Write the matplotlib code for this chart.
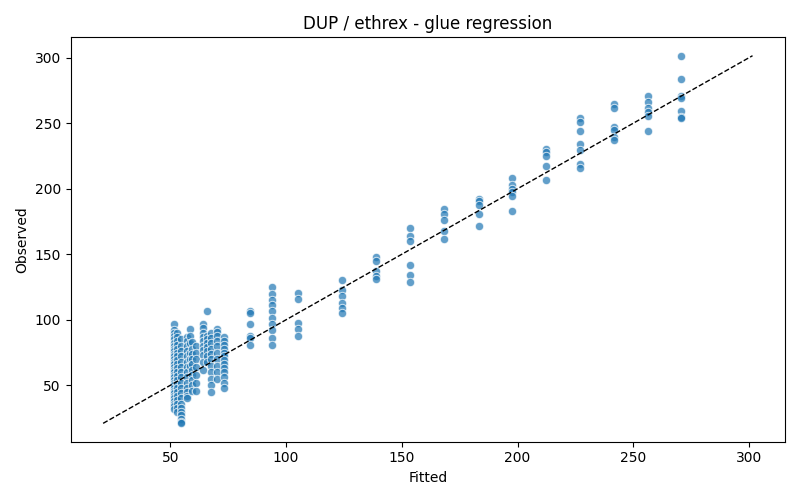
import matplotlib
matplotlib.use("Agg")
import matplotlib.pyplot as plt
import numpy as np

# Fitted value of each column and observed values in that column
col_fitted = [51.5, 53.0, 54.8, 57.2, 58.4, 59.6, 61.0, 64.0, 66.0, 67.8, 70.0, 73.0,
              84.4, 93.8, 105.0, 124.2, 138.8, 153.6, 168.3, 183.3, 197.4,
              212.2, 227.1, 241.8, 256.4, 270.7]
col_observed = [
    [97, 92, 90, 88, 85, 82, 80, 78, 76, 74, 72, 70, 68, 66, 64, 62, 60, 58, 56, 54,
     52, 50, 48, 46, 44, 42, 40, 38, 36, 34, 32],
    [90, 87, 84, 81, 78, 75, 72, 69, 66, 63, 60, 57, 54, 51, 48, 45, 42, 39, 36, 33, 30],
    [85, 80, 76, 72, 68, 64, 60, 56, 52, 48, 44, 40, 36, 33, 30, 27, 24, 22, 21],
    [87, 84, 80, 76, 72, 68, 64, 60, 56, 52, 48, 45, 42, 40],
    [93, 88, 82, 75, 70, 65],
    [83, 78, 74, 70, 66, 62, 58, 54, 50, 46],
    [80, 75, 70, 64, 58, 52, 46],
    [97, 94, 90, 87, 84, 80, 77, 73, 68, 62],
    [107, 88, 85, 82, 79, 76, 72, 68],
    [90, 86, 82, 78, 74, 70, 65, 60, 55, 50, 45],
    [93, 91, 88, 84, 80, 75, 70, 65, 60, 55],
    [87, 84, 81, 78, 75, 72, 69, 66, 63, 60, 56, 52, 48],
    [106.7, 105.4, 97, 87.6, 86.3, 80.7],
    [125.2, 120, 115, 111.3, 106.7, 101.6, 97, 91.9, 86.3, 80.7],
    [120.3, 115.7, 97.8, 92.7, 87.6],
    [130.3, 122.6, 118.3, 113.1, 109.3, 105.4],
    [147.6, 145, 137.4, 133.6, 131.3],
    [169.9, 164.3, 160.4, 142, 134.4, 129],
    [184.7, 180.9, 176.3, 168.1, 161.7],
    [192.4, 190.3, 187.3, 180.9, 171.9],
    [208, 203, 200, 197.5, 194.2, 182.9],
    [230.7, 228.1, 224.8, 217.2, 206.4],
    [253.7, 251.2, 244, 234, 229.4, 218.7, 216.2],
    [264.7, 261.4, 246.9, 244.8, 239.6, 237.1],
    [270.9, 266, 261.4, 258.8, 255.5, 244],
    [301.5, 283.7, 270.5, 269.1, 259.4, 255, 254],
]

fitted = []
observed = []
for f, obs in zip(col_fitted, col_observed):
    for o in obs:
        fitted.append(f)
        observed.append(o)
fitted = np.array(fitted)
observed = np.array(observed)

fig, ax = plt.subplots(figsize=(8, 5), dpi=100)
ax.scatter(fitted, observed, s=36, color="#1f77b4", alpha=0.7,
           edgecolors="white", linewidths=0.75)
lo = min(fitted.min(), observed.min())
hi = max(fitted.max(), observed.max())
ax.plot([lo, hi], [lo, hi], "k--", lw=1)
ax.set_xlabel("Fitted")
ax.set_ylabel("Observed")
ax.set_title("DUP / ethrex - glue regression")
fig.tight_layout()
fig.savefig("out.png")
